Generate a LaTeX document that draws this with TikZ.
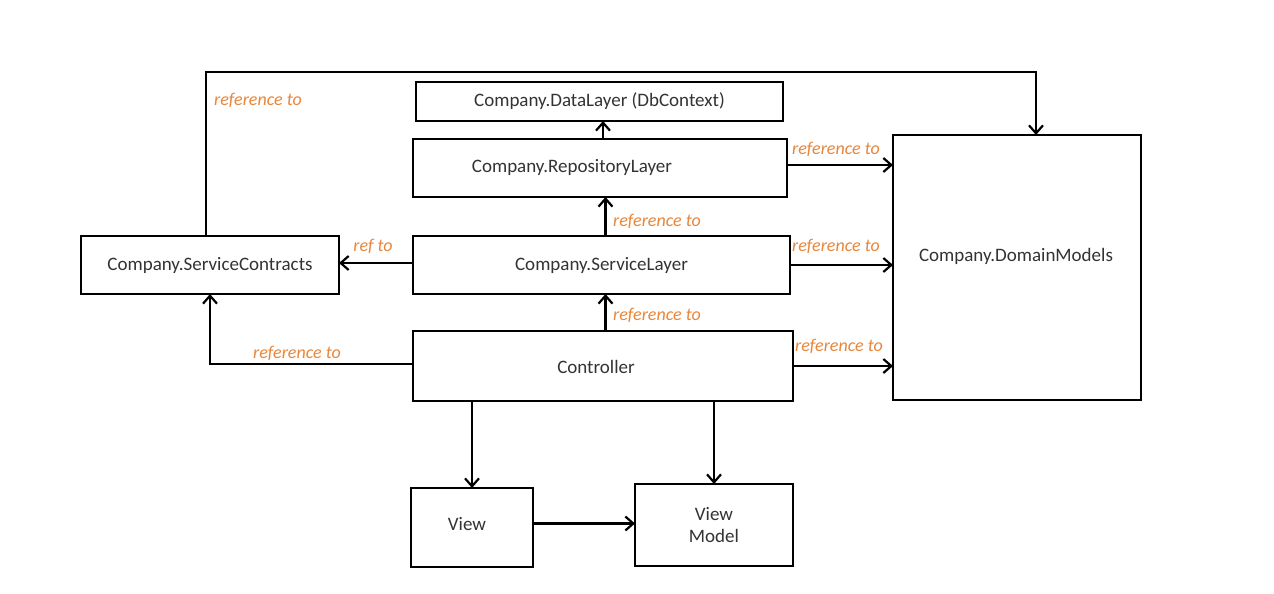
\documentclass[tikz,border=0pt]{standalone}
\usepackage{fontspec}
\setmainfont{Carlito}
\usetikzlibrary{arrows.meta,calc}
\definecolor{reforange}{HTML}{E8873C}
\definecolor{txtgray}{HTML}{333333}
\tikzset{
  box/.style={draw, line width=1.1pt, inner sep=0pt, outer sep=0pt, font=\fontsize{9.5}{11}\selectfont, text=txtgray, align=center},
  arr/.style={line width=1.1pt, -{Straight Barb[length=4pt,width=7pt,line width=1.1pt]}},
  lbl/.style={font=\fontsize{9}{10}\selectfont\itshape, text=reforange, inner sep=0pt},
  plain/.style={font=\fontsize{9.5}{11}\selectfont, text=txtgray, inner sep=0pt}
}
\begin{document}
\begin{tikzpicture}[x=0.5pt,y=-0.5pt]
\useasboundingbox[fill=white] (0,0) rectangle (1274,594);
% boxes
\node[box, minimum width=183.5pt, minimum height=19.5pt] (data) at (599.5,101.5) {Company.DataLayer (DbContext)};
\node[box, minimum width=187pt, minimum height=29pt] (repo) at (600,168) {};
\node[plain] (repot) at (572,167) {Company.RepositoryLayer};
\node[box, minimum width=188.5pt, minimum height=29pt] (svc) at (601.5,265) {Company.ServiceLayer};
\node[box, minimum width=190pt, minimum height=35pt] (ctrl) at (603,366) {};
\node[plain] (ctrlt) at (596,367) {Controller};
\node[box, minimum width=129pt, minimum height=29pt] (contracts) at (210,265) {Company.ServiceContracts};
\node[box, minimum width=124pt, minimum height=132.5pt] (domain) at (1017,267.5) {};
\node[plain] (domaint) at (1016,256) {Company.DomainModels};
\node[box, minimum width=61pt, minimum height=39.5pt] (view) at (472,527.5) {};
\node[plain] (viewt) at (467,524) {View};
\node[box, minimum width=79pt, minimum height=41pt] (vm) at (714,525) {View\\Model};
% connectors
\coordinate (tr) at (1036,72);
\draw[arr] ([xshift=-2pt]contracts.north) |- (tr) -- (tr |- domain.north);
\draw[arr] ([xshift=1.5pt]repo.north) -- ([xshift=1.5pt]repo.north |- data.south);
\draw[arr] ([xshift=2pt]svc.north) -- ([xshift=2pt]svc.north |- repo.south);
\draw[arr] ([xshift=2pt]svc.south |- ctrl.north) -- ([xshift=2pt]svc.south);
\draw[arr] ([yshift=1pt]svc.west) -- ([yshift=1pt]svc.west -| contracts.east);
\draw[arr] ([yshift=1pt]ctrl.west) -| (contracts.south);
\draw[arr] ([yshift=1.5pt]repo.east) -- ([yshift=1.5pt]repo.east -| domain.west);
\draw[arr] (svc.east) -- (svc.east -| domain.west);
\draw[arr] (ctrl.east) -- (ctrl.east -| domain.west);
\draw[arr] (view.north |- ctrl.south) -- (view.north);
\draw[arr] (vm.north |- ctrl.south) -- (vm.north);
\draw[arr] ([yshift=2pt]view.east) -- ([yshift=2pt]view.east -| vm.west);
% labels
\node[lbl] (l1) at (258,100) {reference to};
\node[lbl] (l2) at (836,149) {reference to};
\node[lbl] (l3) at (657,221) {reference to};
\node[lbl] (l4) at (836,246) {reference to};
\node[lbl] (l5) at (657,315) {reference to};
\node[lbl] (l6) at (297,353) {reference to};
\node[lbl] (l7) at (839,346) {reference to};
\node[lbl] (l8) at (373,246) {ref to};
\end{tikzpicture}
\end{document}
